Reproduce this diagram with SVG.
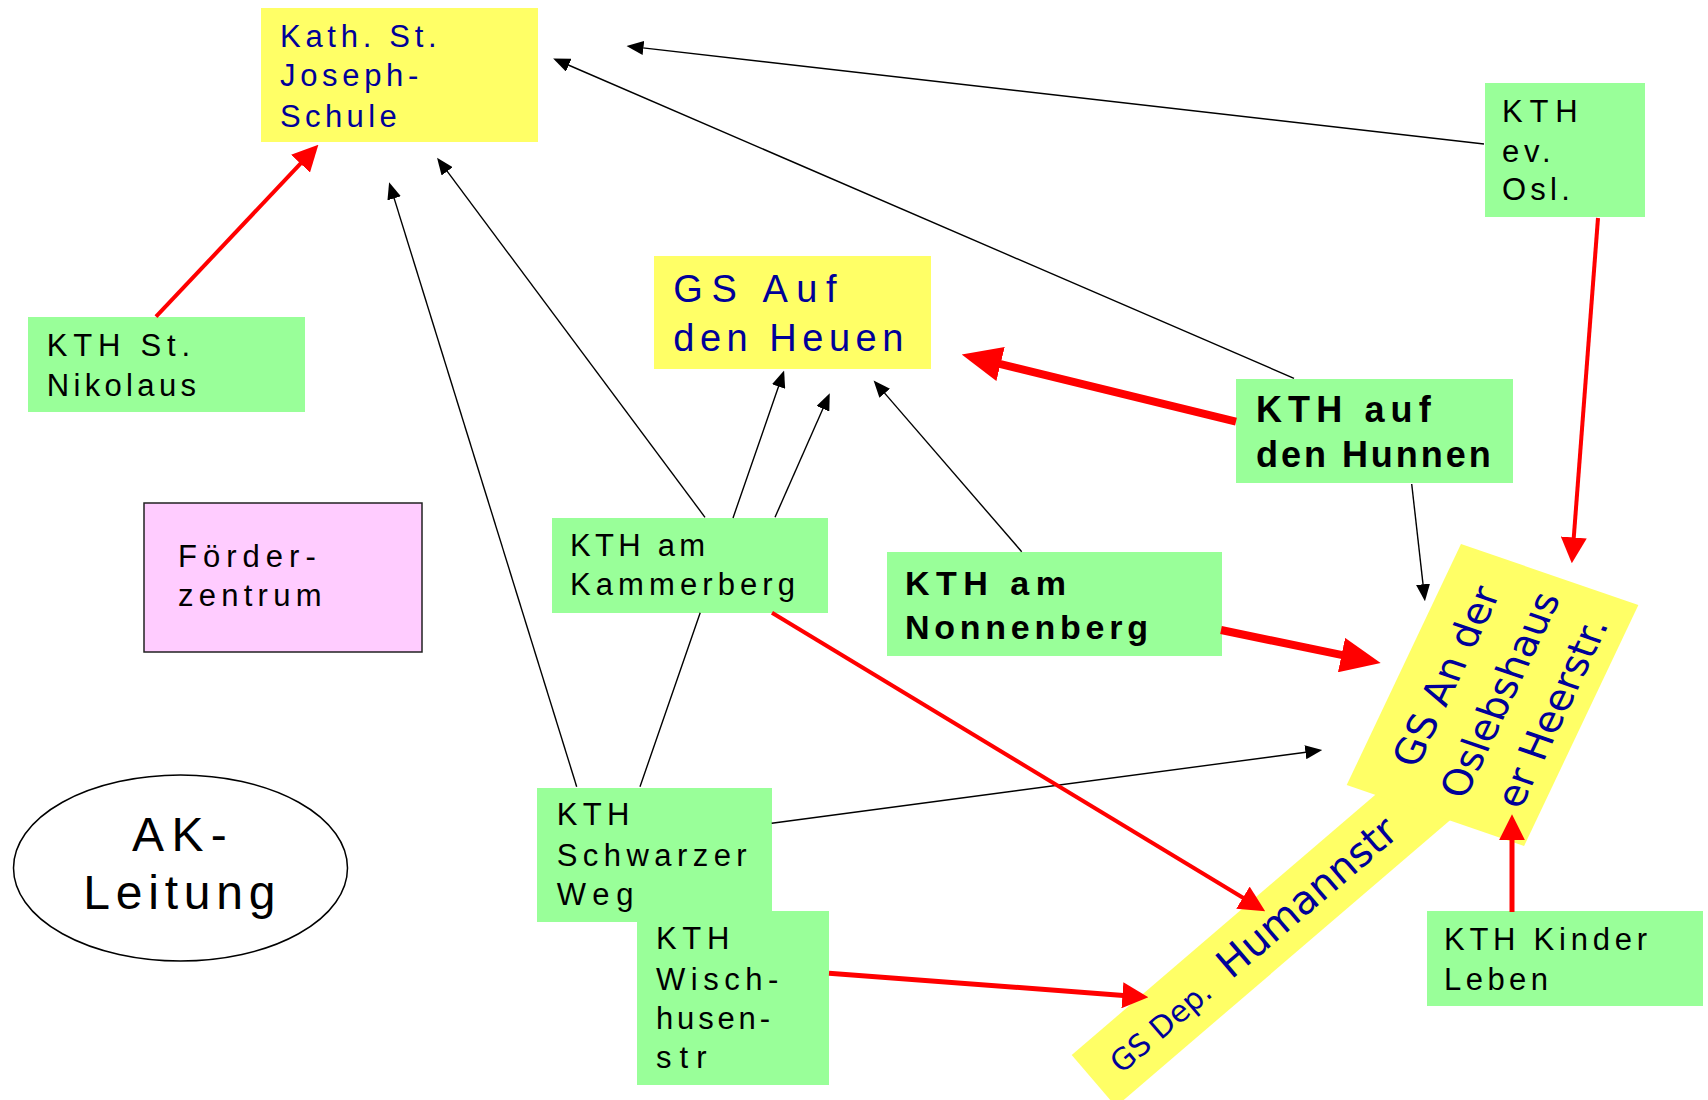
<svg xmlns="http://www.w3.org/2000/svg" width="1708" height="1100" viewBox="0 0 1708 1100">
<style>
.g{fill:#99FF99}
.y{fill:#FFFF66}
.t{font-family:"Liberation Sans",Arial,sans-serif;font-size:31px;fill:#000}
.tb{font-family:"Liberation Sans",Arial,sans-serif;font-weight:bold;fill:#000}
.bl{fill:#000099}
.dv{font-family:"DejaVu Sans",Verdana,sans-serif;fill:#000099}
.k{fill:none;stroke:#000;stroke-width:1.4}
.r{fill:none;stroke:#FF0000;stroke-width:4}
.r5{fill:none;stroke:#FF0000;stroke-width:5}
.r8{fill:none;stroke:#FF0000;stroke-width:8}
</style>
<defs>
<marker id="ab" markerUnits="userSpaceOnUse" markerWidth="17" markerHeight="14" viewBox="0 0 17 14" refX="0.5" refY="7" orient="auto"><path d="M0,0 L17,7 L0,14 z" fill="#000"/></marker>
<marker id="ars" markerUnits="userSpaceOnUse" markerWidth="26" markerHeight="26" viewBox="0 0 26 26" refX="1" refY="13" orient="auto"><path d="M0,0 L26,13 L0,26 z" fill="#FF0000"/></marker>
<marker id="arb" markerUnits="userSpaceOnUse" markerWidth="40" markerHeight="35" viewBox="0 0 40 35" refX="1" refY="17.5" orient="auto"><path d="M0,0 L40,17.5 L0,35 z" fill="#FF0000"/></marker>
</defs>
<rect width="1708" height="1100" fill="#fff"/>

<g id="n-humann">
<g transform="translate(1071.7,1055) rotate(-40.6)">
<rect class="y" x="0" y="0" width="470" height="68"/>
<text class="dv" y="47"><tspan x="25" style="font-size:30px">GS Dep.</tspan><tspan x="170" style="font-size:40px">Humannstr</tspan></text>
</g>
</g>
<g id="n-oslebs">
<g transform="matrix(0.4286,-0.9036,0.9455,0.3253,1346.7,785)">
<rect class="y" x="0" y="0" width="266.7" height="187.6"/>
<text class="dv" style="font-size:39px" text-anchor="middle"><tspan x="136" y="57">GS An der</tspan><tspan x="136" y="114">Oslebshaus</tspan><tspan x="136" y="169">er Heerstr.</tspan></text>
</g>
</g>

<g id="n-kath">
<rect class="y" x="261" y="8" width="277" height="134"/>
<text class="t bl"><tspan x="280" y="46.7" textLength="156.7" lengthAdjust="spacing">Kath. St.</tspan><tspan x="280" y="86" textLength="138.3" lengthAdjust="spacing">Joseph-</tspan><tspan x="280" y="126.7" textLength="116.7" lengthAdjust="spacing">Schule</tspan></text>
</g>
<g id="n-nikolaus">
<rect class="g" x="28" y="317" width="277" height="95"/>
<text class="t"><tspan x="46.7" y="356" textLength="143.3" lengthAdjust="spacing">KTH St.</tspan><tspan x="46.7" y="396" textLength="149.3" lengthAdjust="spacing">Nikolaus</tspan></text>
</g>
<g id="n-heuen">
<rect class="y" x="654" y="256" width="277" height="113"/>
<text class="t bl" style="font-size:38px"><tspan x="673.3" y="301.7" textLength="163.3" lengthAdjust="spacing">GS Auf</tspan><tspan x="673.3" y="351" textLength="230" lengthAdjust="spacing">den Heuen</tspan></text>
</g>
<g id="n-evosl">
<rect class="g" x="1485" y="83" width="160" height="134"/>
<text class="t"><tspan x="1502" y="121.7" textLength="75.6" lengthAdjust="spacing">KTH</tspan><tspan x="1502" y="161.7" textLength="48.7" lengthAdjust="spacing">ev.</tspan><tspan x="1502" y="200" textLength="67.8" lengthAdjust="spacing">Osl.</tspan></text>
</g>
<g id="n-hunnen">
<rect class="g" x="1236" y="379" width="277" height="104"/>
<text class="tb" style="font-size:36px"><tspan x="1256" y="421.7" textLength="174.7" lengthAdjust="spacing">KTH auf</tspan><tspan x="1256" y="466.7" textLength="234.7" lengthAdjust="spacing">den Hunnen</tspan></text>
</g>
<g id="n-kammerberg">
<rect class="g" x="552" y="518" width="276" height="95"/>
<text class="t"><tspan x="570" y="556" textLength="135" lengthAdjust="spacing">KTH am</tspan><tspan x="570" y="594.5" textLength="225" lengthAdjust="spacing">Kammerberg</tspan></text>
</g>
<g id="n-nonnenberg">
<rect class="g" x="887" y="552" width="335" height="104"/>
<text class="tb" style="font-size:34px"><tspan x="905" y="595" textLength="161" lengthAdjust="spacing">KTH am</tspan><tspan x="905" y="639" textLength="243" lengthAdjust="spacing">Nonnenberg</tspan></text>
</g>
<g id="n-foerder">
<rect x="144" y="503" width="278" height="149" fill="#FFCCFF" stroke="#222" stroke-width="1.5"/>
<text class="t"><tspan x="178" y="567" textLength="137.8" lengthAdjust="spacing">Förder-</tspan><tspan x="178" y="605.7" textLength="143.5" lengthAdjust="spacing">zentrum</tspan></text>
</g>
<g id="n-ak">
<ellipse cx="180.5" cy="868" rx="167" ry="93" fill="#fff" stroke="#000" stroke-width="1.5"/>
<text class="t" style="font-size:48px" text-anchor="middle"><tspan x="179.4" y="850.7" textLength="94.7" lengthAdjust="spacing">AK-</tspan><tspan x="179.4" y="909" textLength="192.3" lengthAdjust="spacing">Leitung</tspan></text>
</g>
<g id="n-schwarzer">
<rect class="g" x="537" y="788" width="235" height="134"/>
<text class="t"><tspan x="556.7" y="825" textLength="72.7" lengthAdjust="spacing">KTH</tspan><tspan x="556.7" y="866" textLength="190" lengthAdjust="spacing">Schwarzer</tspan><tspan x="556.7" y="905" textLength="76.7" lengthAdjust="spacing">Weg</tspan></text>
</g>
<g id="n-wisch">
<rect class="g" x="637" y="911" width="192" height="174"/>
<text class="t"><tspan x="656" y="949.3" textLength="73.3" lengthAdjust="spacing">KTH</tspan><tspan x="656" y="990" textLength="122.3" lengthAdjust="spacing">Wisch-</tspan><tspan x="656" y="1029.3" textLength="114" lengthAdjust="spacing">husen-</tspan><tspan x="656" y="1067.7" textLength="50.7" lengthAdjust="spacing">str</tspan></text>
</g>
<g id="n-kinder">
<rect class="g" x="1427" y="911" width="276" height="95"/>
<text class="t"><tspan x="1444" y="949.6" textLength="203" lengthAdjust="spacing">KTH Kinder</tspan><tspan x="1444" y="989.9" textLength="104" lengthAdjust="spacing">Leben</tspan></text>
</g>

<g id="connectors">
<path class="k" d="M1484,144 L642.9,47.9" marker-end="url(#ab)"/>
<path class="k" d="M1294,378.3 L568.3,65" marker-end="url(#ab)"/>
<path class="k" d="M705,517.3 L446.9,170.9" marker-end="url(#ab)"/>
<path class="k" d="M576.7,786.7 L394,197.9" marker-end="url(#ab)"/>
<path class="k" d="M640,786.7 L700.2,612.8 M733,518 L778.7,386.1" marker-end="url(#ab)"/>
<path class="k" d="M775,517.3 L823.1,408.3" marker-end="url(#ab)"/>
<path class="k" d="M1021.7,551.7 L884.4,392.9" marker-end="url(#ab)"/>
<path class="k" d="M771.7,823.3 L1305.9,752.2" marker-end="url(#ab)"/>
<path class="k" d="M1411.7,484 L1423.1,584.8" marker-end="url(#ab)"/>
<path class="r" d="M156,316.7 L301.2,162.9" marker-end="url(#ars)"/>
<path class="r" d="M1598,218 L1573.7,538.4" marker-end="url(#ars)"/>
<path class="r" d="M772,612.8 L1243.8,898.2" marker-end="url(#ars)"/>
<path class="r5" d="M829,973.3 L1123.4,995.4" marker-end="url(#ars)"/>
<path class="r5" d="M1512,912 L1512,839.3" marker-end="url(#ars)"/>
<path class="r8" d="M1236,421.7 L999.6,363.8" marker-end="url(#arb)"/>
<path class="r8" d="M1221,630 L1342.5,655.2" marker-end="url(#arb)"/>
</g>
</svg>
